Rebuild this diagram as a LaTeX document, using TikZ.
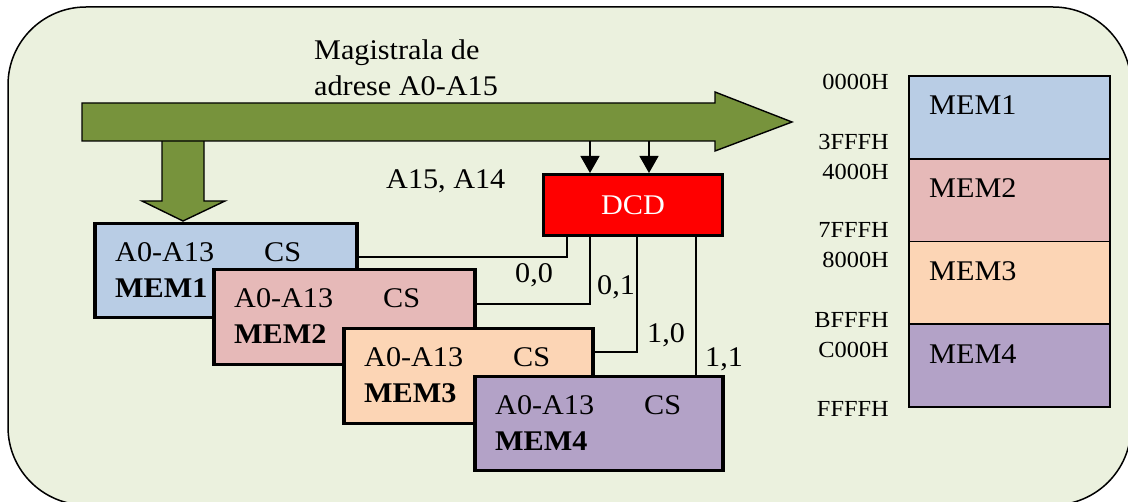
\documentclass[tikz,border=0pt]{standalone}
\usepackage{fontspec}
\setmainfont{Liberation Serif}[FakeStretch=1.06]
\usetikzlibrary{arrows.meta,calc}

\definecolor{panelbg}{HTML}{EBF1DE}
\definecolor{busgreen}{HTML}{77933C}
\definecolor{memA}{HTML}{B9CDE5}
\definecolor{memB}{HTML}{E6B9B8}
\definecolor{memC}{HTML}{FCD5B5}
\definecolor{memD}{HTML}{B3A2C7}

\newcommand\bigtxt{\fontsize{28.5}{34}\selectfont}
\newcommand\addrtxt{\fontsize{23}{28}\selectfont}

\tikzset{
  panel/.style={draw=black, fill=panelbg, line width=1.5pt, rounded corners=78pt},
  bus/.style={draw=black, fill=busgreen, line width=1.4pt, line join=miter},
  chip/.style={draw=black, line width=3.5pt, inner sep=0pt, anchor=north west,
               minimum width=#1},
  chip/.default=250pt,
  dcdbox/.style={draw=black, fill=red, line width=3pt, inner sep=0pt,
                 anchor=north west, minimum width=179pt, minimum height=61pt,
                 text=white, font=\bigtxt},
  txt/.style={inner sep=0pt, anchor=base west, font=\bigtxt},
  addr/.style={inner sep=0pt, anchor=base east, font=\addrtxt},
  wire/.style={draw=black, line width=1.3pt},
  tap/.style={wire, -{Triangle[width=19pt,length=17pt]}},
  mapcell/.style={draw=black, line width=1.6pt, inner sep=0pt, outer sep=0pt,
                  anchor=north west, minimum width=201pt, minimum height=82.75pt},
}

% memory chip with its pin labels: name, colour, x, y, width, height, title
\newcommand\memchip[7]{%
  \node[chip=#5, minimum height=#6, fill=#2] (#1) at (#3,#4) {};
  \node[txt] (#1addr) at ([shift={(22pt,-40pt)}]#1.north west) {A0-A13};
  \node[txt] (#1cs) at ([shift={(171pt,-40pt)}]#1.north west) {CS};
  \node[txt, font=\bigtxt\bfseries] (#1name) at ([shift={(22pt,-76pt)}]#1.north west) {#7};
}

\begin{document}
\begin{tikzpicture}[x=1pt, y=-1pt]
\useasboundingbox (0,0) rectangle (1128,502);

% panel
\draw[panel] (8,7) rectangle (1131,505);

% branch of the bus down to MEM1
\draw[bus] (162,141) -- (162,201) -- (142,201) -- (183,221) -- (225,201)
  -- (204,201) -- (204,141);

% address bus
\draw[bus] (82,103) -- (715,103) -- (715,92) -- (792,122) -- (715,151)
  -- (715,141) -- (82,141) -- cycle;
\coordinate (tapA) at (590,141);
\coordinate (tapB) at (649,141);

\node[txt] (busname1) at (314,60) {Magistrala de};
\node[txt] (busname2) at (314,96) {adrese A0-A15};
\node[txt] (hibits) at (386,189) {A15, A14};

% decoder
\node[dcdbox] (dcd) at (542,173) {DCD};
\draw[tap] (tapA) -- (tapA |- dcd.north);
\draw[tap] (tapB) -- (tapB |- dcd.north);

% memory chips
\memchip{m1}{memA}{93}{222}{262pt}{94pt}{MEM1}
\memchip{m2}{memB}{212}{268}{261pt}{95pt}{MEM2}
\memchip{m3}{memC}{342}{327}{249pt}{95pt}{MEM3}
\memchip{m4}{memD}{473}{375}{248pt}{94pt}{MEM4}

% chip select lines
\draw[wire] ([xshift=25pt]dcd.south west) |- ([yshift=-35pt]m1.north east);
\draw[wire] ([xshift=48pt]dcd.south west) |- ([yshift=-36pt]m2.north east);
\draw[wire] ([xshift=95pt]dcd.south west) |- ([yshift=-25pt]m3.north east);
\draw[wire] ([xshift=154pt]dcd.south west) -- ([xshift=154pt]dcd.south west |- m4.north);

\node[txt] (sel00) at (515,283) {0,0};
\node[txt] (sel01) at (597,295) {0,1};
\node[txt] (sel10) at (647,343) {1,0};
\node[txt] (sel11) at (705,367) {1,1};

% memory map
\node[mapcell, fill=memA] (r1) at (909,76) {};
\node[mapcell, fill=memB] (r2) at (r1.south west) {};
\node[mapcell, fill=memC] (r3) at (r2.south west) {};
\node[mapcell, fill=memD] (r4) at (r3.south west) {};
\node[txt] (r1t) at ([shift={(20pt,-39pt)}]r1.north west) {MEM1};
\node[txt] (r2t) at ([shift={(20pt,-39pt)}]r2.north west) {MEM2};
\node[txt] (r3t) at ([shift={(20pt,-39pt)}]r3.north west) {MEM3};
\node[txt] (r4t) at ([shift={(20pt,-39pt)}]r4.north west) {MEM4};

\node[addr] (a1) at (889,90) {0000H};
\node[addr] (a2) at (889,150) {3FFFH};
\node[addr] (a3) at (889,180) {4000H};
\node[addr] (a4) at (889,238) {7FFFH};
\node[addr] (a5) at (889,268) {8000H};
\node[addr] (a6) at (889,328) {BFFFH};
\node[addr] (a7) at (889,358) {C000H};
\node[addr] (a8) at (889,417) {FFFFH};
\end{tikzpicture}
\end{document}
